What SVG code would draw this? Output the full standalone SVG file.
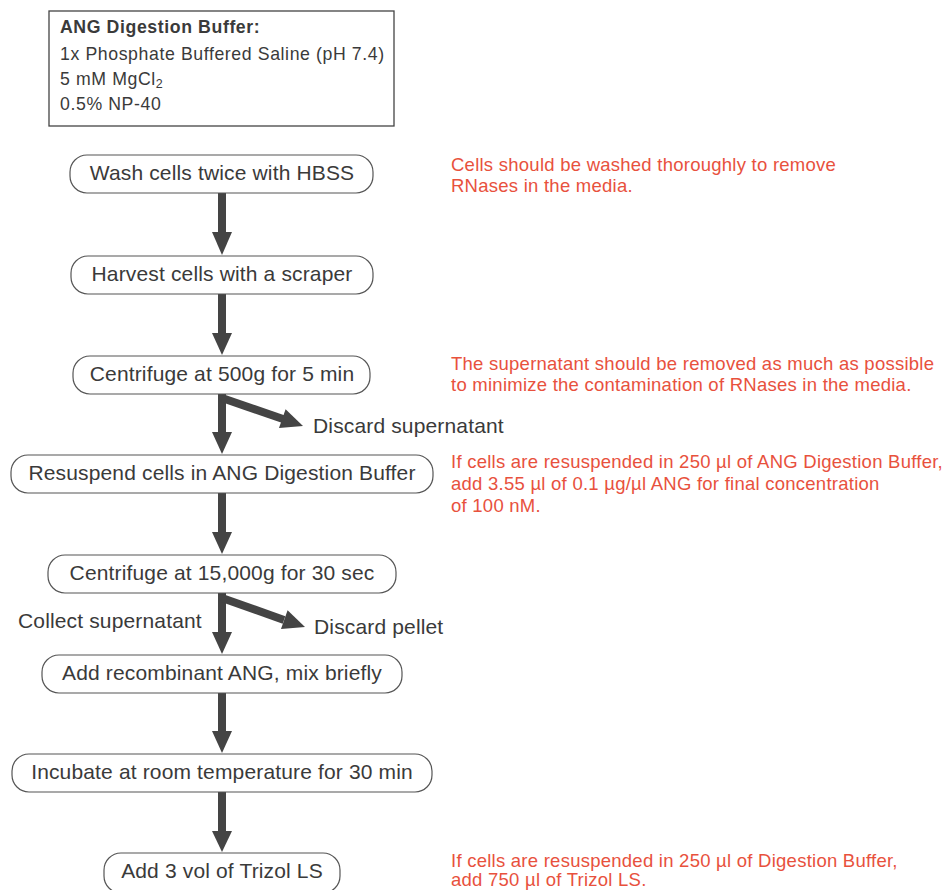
<svg xmlns="http://www.w3.org/2000/svg" width="945" height="890" viewBox="0 0 945 890">
<defs>
<style>
.pill{fill:#fff;stroke:#555;stroke-width:1.2}
.t{font-family:"Liberation Sans",Arial,sans-serif;font-size:21px;letter-spacing:0.15px;fill:#3a3a3a}
.b{font-family:"Liberation Sans",Arial,sans-serif;font-size:17.7px;letter-spacing:0.6px;fill:#3a3a3a}
.r{font-family:"Liberation Sans",Arial,sans-serif;font-size:18.5px;letter-spacing:0.25px;fill:#e8513d}
.sh{fill:#444}
.br{stroke:#444;stroke-width:8;fill:none}
</style>
</defs>
<rect width="945" height="890" fill="#fff"/>
<g id="buffer">
<rect x="49" y="11" width="345" height="115" fill="#fff" stroke="#444" stroke-width="1.3"/>
<text class="b" x="60" y="33" font-weight="bold">ANG Digestion Buffer:</text>
<text class="b" x="60" y="60">1x Phosphate Buffered Saline (pH 7.4)</text>
<text class="b" x="60" y="85">5 mM MgCl<tspan font-size="12.5" dy="3">2</tspan></text>
<text class="b" x="60" y="110">0.5% NP-40</text>
</g>
<g id="connectors">
<rect class="sh" x="218" y="193" width="8" height="40"/><polygon class="sh" points="212,232 232,232 222,255"/>
<rect class="sh" x="218" y="294" width="8" height="40"/><polygon class="sh" points="212,333 232,333 222,355"/>
<rect class="sh" x="218" y="394" width="8" height="39"/><polygon class="sh" points="212,432 232,432 222,454"/>
<line class="br" x1="222" y1="398" x2="283" y2="419"/><polygon class="sh" points="279,428 285.6,409.2 303,426"/>
<rect class="sh" x="218" y="493" width="8" height="40"/><polygon class="sh" points="212,532 232,532 222,554"/>
<rect class="sh" x="218" y="593" width="8" height="40"/><polygon class="sh" points="212,632 232,632 222,654"/>
<line class="br" x1="222" y1="598" x2="284" y2="620"/><polygon class="sh" points="281,629 287.6,610.2 305,627"/>
<rect class="sh" x="218" y="693" width="8" height="39"/><polygon class="sh" points="212,731 232,731 222,753"/>
<rect class="sh" x="218" y="792" width="8" height="40"/><polygon class="sh" points="212,831 232,831 222,852"/>
</g>
<g id="n1"><rect class="pill" x="70" y="155" width="303" height="38" rx="17"/><text class="t" x="222" y="180" text-anchor="middle">Wash cells twice with HBSS</text></g>
<g id="n2"><rect class="pill" x="71" y="256" width="302" height="38" rx="17"/><text class="t" x="222" y="281" text-anchor="middle">Harvest cells with a scraper</text></g>
<g id="n3"><rect class="pill" x="73" y="356" width="297" height="38" rx="17"/><text class="t" x="222" y="381" text-anchor="middle">Centrifuge at 500g for 5 min</text></g>
<g id="n4"><rect class="pill" x="11" y="455" width="422" height="38" rx="17"/><text class="t" x="222" y="480" text-anchor="middle">Resuspend cells in ANG Digestion Buffer</text></g>
<g id="n5"><rect class="pill" x="48" y="555" width="348" height="38" rx="17"/><text class="t" x="222" y="580" text-anchor="middle">Centrifuge at 15,000g for 30 sec</text></g>
<g id="n6"><rect class="pill" x="42" y="655" width="360" height="38" rx="17"/><text class="t" x="222" y="680" text-anchor="middle">Add recombinant ANG, mix briefly</text></g>
<g id="n7"><rect class="pill" x="12" y="754" width="420" height="38" rx="17"/><text class="t" x="222" y="779" text-anchor="middle">Incubate at room temperature for 30 min</text></g>
<g id="n8"><rect class="pill" x="104" y="853" width="236" height="40" rx="17"/><text class="t" x="222" y="878" text-anchor="middle">Add 3 vol of Trizol LS</text></g>
<g id="labels">
<text class="t" x="313" y="433">Discard supernatant</text>
<text class="t" x="314" y="634">Discard pellet</text>
<text class="t" x="18" y="628">Collect supernatant</text>
</g>
<g id="notes">
<text class="r" x="451" y="171">Cells should be washed thoroughly to remove</text>
<text class="r" x="451" y="192">RNases in the media.</text>
<text class="r" x="451" y="370">The supernatant should be removed as much as possible</text>
<text class="r" x="451" y="391">to minimize the contamination of RNases in the media.</text>
<text class="r" x="451" y="468">If cells are resuspended in 250 µl of ANG Digestion Buffer,</text>
<text class="r" x="451" y="490">add 3.55 µl of 0.1 µg/µl ANG for final concentration</text>
<text class="r" x="451" y="512">of 100 nM.</text>
<text class="r" x="451" y="867">If cells are resuspended in 250 µl of Digestion Buffer,</text>
<text class="r" x="451" y="886">add 750 µl of Trizol LS.</text>
</g>
</svg>
